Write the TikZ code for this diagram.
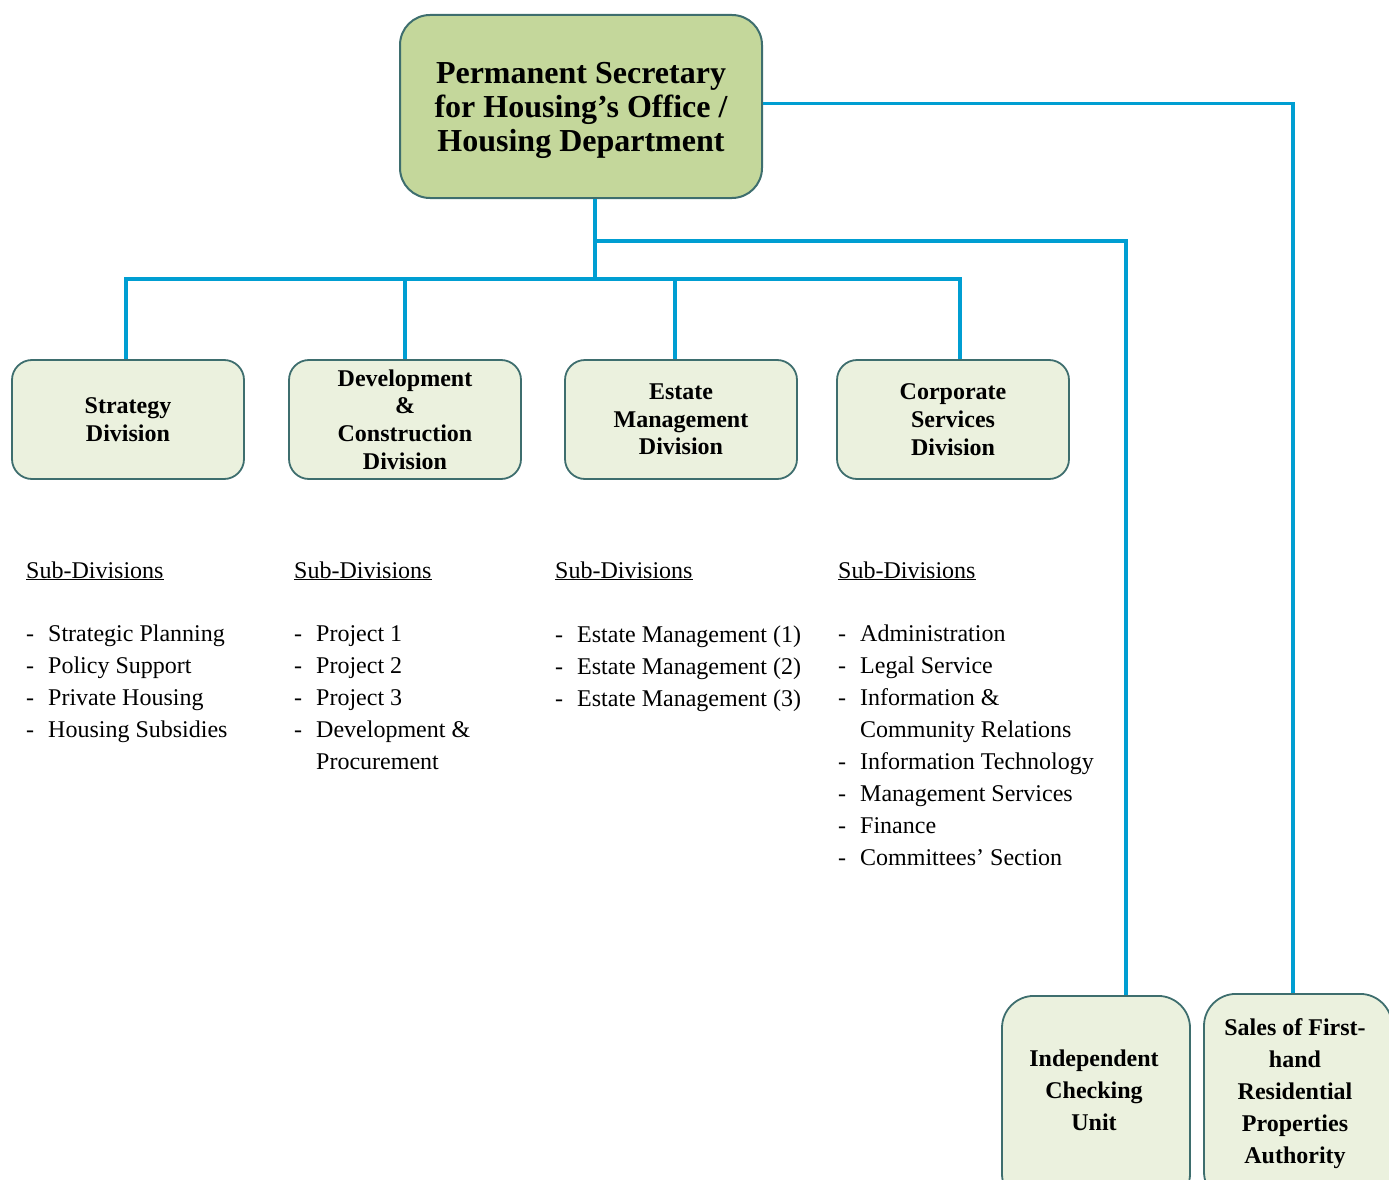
\documentclass[tikz,border=0pt]{standalone}
\usepackage{fontspec}
\setmainfont{Liberation Serif}
\usetikzlibrary{positioning}

\definecolor{linkblue}{RGB}{0,158,210}
\definecolor{topfill}{RGB}{196,215,155}
\definecolor{divfill}{RGB}{235,241,222}
\definecolor{boxedge}{RGB}{62,110,110}

\begin{document}
\begin{tikzpicture}[x=1pt,y=1pt,line join=miter,
  link/.style={draw=linkblue,line width=3.2pt},
  headbox/.style={draw=boxedge,line width=2pt,fill=topfill,rounded corners=30pt,
    minimum width=362pt,minimum height=183pt,align=center,
    font=\fontsize{32}{34}\selectfont\bfseries},
  divbox/.style={draw=boxedge,line width=1.8pt,fill=divfill,rounded corners=20pt,
    minimum width=232pt,minimum height=119pt,align=center,
    font=\fontsize{24}{27.7}\selectfont\bfseries},
  unitbox/.style={draw=boxedge,line width=1.8pt,fill=divfill,rounded corners=32pt,
    minimum width=188pt,minimum height=210pt,anchor=north},
  unittext/.style={align=center,font=\fontsize{24}{32}\selectfont\bfseries},
  subhead/.style={anchor=base west,inner sep=0pt,font=\fontsize{24}{32}\selectfont},
  sublist/.style={anchor=base west,inner sep=0pt,font=\fontsize{24}{32}\selectfont}]
  \useasboundingbox (0,0) rectangle (1389,-1180);

  % top office
  \node[headbox] (psh) at (581,-106.5) {\rule{0pt}{30pt}Permanent Secretary\\for Housing’s Office /\\Housing Department};

  % divisions
  \node[divbox] (sd) at (128,-419.5) {Strategy\\Division};
  \node[divbox] (dcd) at (405,-419.5) {Development\\\&\\Construction\\Division};
  \node[divbox] (emd) at (681,-419.5) {Estate\\Management\\Division};
  \node[divbox] (csd) at (953,-419.5) {Corporate\\Services\\Division};

  % units on the right
  \node[unitbox] (icu) at (1096,-995) {};
  \node[unittext] (icu-text) at (1094,-1090) {Independent\\Checking\\Unit};
  \node[unitbox] (srpa) at (1298,-993) {};
  \node[unittext] (srpa-text) at (1295,-1094) {Sales of First-\\hand\\Residential\\Properties\\Authority};

  % connectors
  \coordinate (stem) at (595,-279);
  \coordinate (branch) at (1126,-241);
  \draw[link] (psh.south -| stem) -- (stem);
  \draw[link] ([xshift=-2pt]sd.north) |- ([xshift=7pt]csd.north |- stem) -- ([xshift=7pt]csd.north);
  \draw[link] (dcd.north) -- (dcd.north |- stem);
  \draw[link] ([xshift=-6pt]emd.north) -- ([xshift=-6pt]emd.north |- stem);
  \draw[link] (stem |- branch) -- (branch) -- (branch |- icu.north);
  \draw[link] ([yshift=3pt]psh.east) -| ([xshift=-5pt]srpa.north);

  % sub-divisions
  \foreach \x/\n in {26/sd,294/dcd,555/emd,838/csd}
    \node[subhead] (\n-head) at (\x,-578) {\underline{Sub-Divisions}};

  \node[sublist] (sd-list) at (26,-641) {\begin{tabular}[t]{@{}p{22pt}@{}l@{}}
    - & Strategic Planning\\
    - & Policy Support\\
    - & Private Housing\\
    - & Housing Subsidies
  \end{tabular}};
  \node[sublist] (dcd-list) at (294,-641) {\begin{tabular}[t]{@{}p{22pt}@{}l@{}}
    - & Project 1\\
    - & Project 2\\
    - & Project 3\\
    - & Development \&\\
      & Procurement
  \end{tabular}};
  \node[sublist] (emd-list) at (555,-642) {\begin{tabular}[t]{@{}p{22pt}@{}l@{}}
    - & Estate Management (1)\\
    - & Estate Management (2)\\
    - & Estate Management (3)
  \end{tabular}};
  \node[sublist] (csd-list) at (838,-641) {\begin{tabular}[t]{@{}p{22pt}@{}l@{}}
    - & Administration\\
    - & Legal Service\\
    - & Information \&\\
      & Community Relations\\
    - & Information Technology\\
    - & Management Services\\
    - & Finance\\
    - & Committees’ Section
  \end{tabular}};
\end{tikzpicture}
\end{document}
